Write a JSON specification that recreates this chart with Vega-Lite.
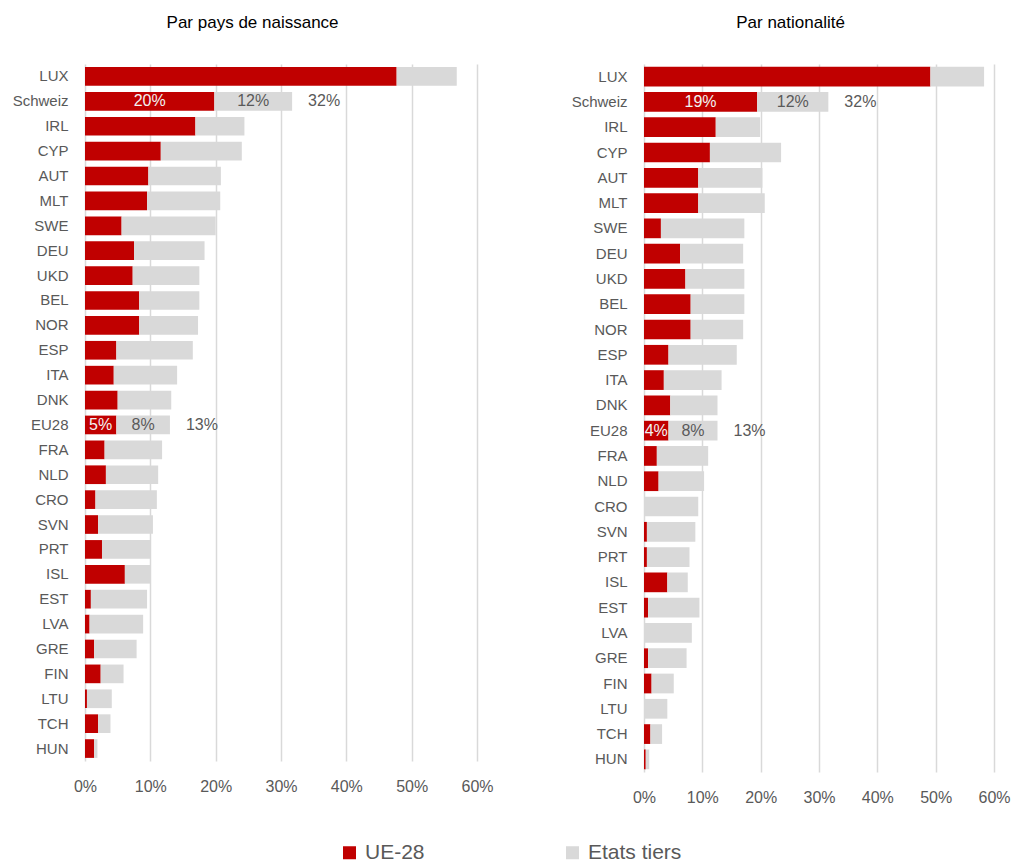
{
  "$schema": "https://vega.github.io/schema/vega-lite/v6.json",
  "padding": {"left": 12, "top": 14, "right": 0, "bottom": 0},
  "background": "white",
  "config": {
    "view": {"stroke": null},
    "font": "Liberation Sans",
    "title": {"fontSize": 17, "fontWeight": "normal", "color": "#000000", "font": "Liberation Sans", "offset": 32, "frame": "bounds", "anchor": "middle"},
    "axis": {"labelFont": "Liberation Sans", "labelFontSize": 15, "labelColor": "#595959", "title": null, "domain": false, "ticks": false},
    "legend": {"labelFont": "Liberation Sans", "labelFontSize": 21, "labelColor": "#595959"}
  },
  "datasets": {
    "naissance": [
      {"c": "LUX", "UE-28": 0.477, "Etats tiers": 0.092},
      {"c": "Schweiz", "UE-28": 0.198, "Etats tiers": 0.119},
      {"c": "IRL", "UE-28": 0.169, "Etats tiers": 0.075},
      {"c": "CYP", "UE-28": 0.116, "Etats tiers": 0.124},
      {"c": "AUT", "UE-28": 0.097, "Etats tiers": 0.111},
      {"c": "MLT", "UE-28": 0.095, "Etats tiers": 0.112},
      {"c": "SWE", "UE-28": 0.056, "Etats tiers": 0.144},
      {"c": "DEU", "UE-28": 0.075, "Etats tiers": 0.108},
      {"c": "UKD", "UE-28": 0.073, "Etats tiers": 0.102},
      {"c": "BEL", "UE-28": 0.083, "Etats tiers": 0.092},
      {"c": "NOR", "UE-28": 0.083, "Etats tiers": 0.090},
      {"c": "ESP", "UE-28": 0.048, "Etats tiers": 0.117},
      {"c": "ITA", "UE-28": 0.044, "Etats tiers": 0.097},
      {"c": "DNK", "UE-28": 0.050, "Etats tiers": 0.082},
      {"c": "EU28", "UE-28": 0.048, "Etats tiers": 0.082},
      {"c": "FRA", "UE-28": 0.030, "Etats tiers": 0.088},
      {"c": "NLD", "UE-28": 0.032, "Etats tiers": 0.080},
      {"c": "CRO", "UE-28": 0.016, "Etats tiers": 0.094},
      {"c": "SVN", "UE-28": 0.020, "Etats tiers": 0.084},
      {"c": "PRT", "UE-28": 0.026, "Etats tiers": 0.074},
      {"c": "ISL", "UE-28": 0.061, "Etats tiers": 0.039},
      {"c": "EST", "UE-28": 0.009, "Etats tiers": 0.086},
      {"c": "LVA", "UE-28": 0.007, "Etats tiers": 0.082},
      {"c": "GRE", "UE-28": 0.014, "Etats tiers": 0.065},
      {"c": "FIN", "UE-28": 0.024, "Etats tiers": 0.035},
      {"c": "LTU", "UE-28": 0.003, "Etats tiers": 0.038},
      {"c": "TCH", "UE-28": 0.020, "Etats tiers": 0.019},
      {"c": "HUN", "UE-28": 0.014, "Etats tiers": 0.005}
    ],
    "nationalite": [
      {"c": "LUX", "UE-28": 0.491, "Etats tiers": 0.092},
      {"c": "Schweiz", "UE-28": 0.194, "Etats tiers": 0.122},
      {"c": "IRL", "UE-28": 0.123, "Etats tiers": 0.076},
      {"c": "CYP", "UE-28": 0.113, "Etats tiers": 0.122},
      {"c": "AUT", "UE-28": 0.093, "Etats tiers": 0.110},
      {"c": "MLT", "UE-28": 0.093, "Etats tiers": 0.114},
      {"c": "SWE", "UE-28": 0.029, "Etats tiers": 0.143},
      {"c": "DEU", "UE-28": 0.062, "Etats tiers": 0.108},
      {"c": "UKD", "UE-28": 0.071, "Etats tiers": 0.101},
      {"c": "BEL", "UE-28": 0.080, "Etats tiers": 0.092},
      {"c": "NOR", "UE-28": 0.080, "Etats tiers": 0.090},
      {"c": "ESP", "UE-28": 0.042, "Etats tiers": 0.117},
      {"c": "ITA", "UE-28": 0.034, "Etats tiers": 0.099},
      {"c": "DNK", "UE-28": 0.045, "Etats tiers": 0.081},
      {"c": "EU28", "UE-28": 0.042, "Etats tiers": 0.084},
      {"c": "FRA", "UE-28": 0.022, "Etats tiers": 0.088},
      {"c": "NLD", "UE-28": 0.025, "Etats tiers": 0.078},
      {"c": "CRO", "UE-28": 0.000, "Etats tiers": 0.093},
      {"c": "SVN", "UE-28": 0.005, "Etats tiers": 0.083},
      {"c": "PRT", "UE-28": 0.005, "Etats tiers": 0.073},
      {"c": "ISL", "UE-28": 0.040, "Etats tiers": 0.035},
      {"c": "EST", "UE-28": 0.007, "Etats tiers": 0.088},
      {"c": "LVA", "UE-28": 0.000, "Etats tiers": 0.082},
      {"c": "GRE", "UE-28": 0.007, "Etats tiers": 0.066},
      {"c": "FIN", "UE-28": 0.013, "Etats tiers": 0.038},
      {"c": "LTU", "UE-28": 0.000, "Etats tiers": 0.040},
      {"c": "TCH", "UE-28": 0.011, "Etats tiers": 0.020},
      {"c": "HUN", "UE-28": 0.003, "Etats tiers": 0.006}
    ]
  },
  "spacing": 77,
  "hconcat": [
    {
      "width": 392,
      "height": 697,
      "title": {"text": "Par pays de naissance"},
      "data": {"name": "naissance"},
      "transform": [{"fold": ["UE-28", "Etats tiers"], "as": ["cat", "v"]}],
      "encoding": {
        "y": {
          "field": "c", "type": "nominal",
          "sort": ["LUX","Schweiz","IRL","CYP","AUT","MLT","SWE","DEU","UKD","BEL","NOR","ESP","ITA","DNK","EU28","FRA","NLD","CRO","SVN","PRT","ISL","EST","LVA","GRE","FIN","LTU","TCH","HUN"],
          "scale": {"paddingInner": 0.25, "paddingOuter": 0.125},
          "axis": {"labelPadding": 17}
        }
      },
      "layer": [
        {
          "mark": {"type": "bar"},
          "encoding": {
            "x": {"field": "v", "type": "quantitative", "stack": "zero",
              "scale": {"domain": [0, 0.6]},
              "axis": {"format": ".0%", "values": [0, 0.1, 0.2, 0.3, 0.4, 0.5, 0.6], "grid": true, "gridColor": "#d9d9d9", "gridWidth": 1.5, "labelPadding": 17, "labelFlush": false, "labelFontSize": 16}},
            "color": {"field": "cat", "type": "nominal",
              "scale": {"domain": ["UE-28", "Etats tiers"], "range": ["#c00000", "#d9d9d9"]},
              "legend": {"title": null, "orient": "none", "legendX": 254, "legendY": 778, "direction": "horizontal", "symbolType": "square", "symbolSize": 169, "symbolStrokeWidth": 0, "labelOffset": 5, "columnPadding": 137}},
            "order": {"field": "cat", "sort": "descending"}
          }
        },
        {
          "transform": [{"filter": {"field": "c", "oneOf": ["Schweiz", "EU28"]}}],
          "mark": {"type": "text", "fontSize": 16},
          "encoding": {
            "x": {"field": "v", "type": "quantitative", "stack": "zero", "bandPosition": 0.5},
            "detail": {"field": "cat"},
            "order": {"field": "cat", "sort": "descending"},
            "text": {"field": "v", "format": ".0%"},
            "color": {"condition": {"test": "datum.cat === 'UE-28'", "value": "#f2f2f2"}, "value": "#595959"}
          }
        },
        {
          "transform": [
            {"filter": {"field": "c", "oneOf": ["Schweiz", "EU28"]}},
            {"aggregate": [{"op": "sum", "field": "v", "as": "total"}], "groupby": ["c"]}
          ],
          "mark": {"type": "text", "fontSize": 16, "align": "left", "dx": 16, "color": "#595959"},
          "encoding": {
            "x": {"field": "total", "type": "quantitative"},
            "text": {"field": "total", "format": ".0%"}
          }
        }
      ]
    },
    {
      "width": 350,
      "height": 708,
      "title": {"text": "Par nationalité"},
      "data": {"name": "nationalite"},
      "transform": [{"fold": ["UE-28", "Etats tiers"], "as": ["cat", "v"]}],
      "encoding": {
        "y": {
          "field": "c", "type": "nominal",
          "sort": ["LUX","Schweiz","IRL","CYP","AUT","MLT","SWE","DEU","UKD","BEL","NOR","ESP","ITA","DNK","EU28","FRA","NLD","CRO","SVN","PRT","ISL","EST","LVA","GRE","FIN","LTU","TCH","HUN"],
          "scale": {"paddingInner": 0.22, "paddingOuter": 0.11},
          "axis": {"labelPadding": 17}
        }
      },
      "layer": [
        {
          "mark": {"type": "bar"},
          "encoding": {
            "x": {"field": "v", "type": "quantitative", "stack": "zero",
              "scale": {"domain": [0, 0.6]},
              "axis": {"format": ".0%", "values": [0, 0.1, 0.2, 0.3, 0.4, 0.5, 0.6], "grid": true, "gridColor": "#d9d9d9", "gridWidth": 1.5, "labelPadding": 17, "labelFlush": false, "labelFontSize": 16}},
            "color": {"field": "cat", "type": "nominal",
              "scale": {"domain": ["UE-28", "Etats tiers"], "range": ["#c00000", "#d9d9d9"]}},
            "order": {"field": "cat", "sort": "descending"}
          }
        },
        {
          "transform": [{"filter": {"field": "c", "oneOf": ["Schweiz", "EU28"]}}],
          "mark": {"type": "text", "fontSize": 16},
          "encoding": {
            "x": {"field": "v", "type": "quantitative", "stack": "zero", "bandPosition": 0.5},
            "detail": {"field": "cat"},
            "order": {"field": "cat", "sort": "descending"},
            "text": {"field": "v", "format": ".0%"},
            "color": {"condition": {"test": "datum.cat === 'UE-28'", "value": "#f2f2f2"}, "value": "#595959"}
          }
        },
        {
          "transform": [
            {"filter": {"field": "c", "oneOf": ["Schweiz", "EU28"]}},
            {"aggregate": [{"op": "sum", "field": "v", "as": "total"}], "groupby": ["c"]}
          ],
          "mark": {"type": "text", "fontSize": 16, "align": "left", "dx": 16, "color": "#595959"},
          "encoding": {
            "x": {"field": "total", "type": "quantitative"},
            "text": {"field": "total", "format": ".0%"}
          }
        }
      ]
    }
  ]
}
